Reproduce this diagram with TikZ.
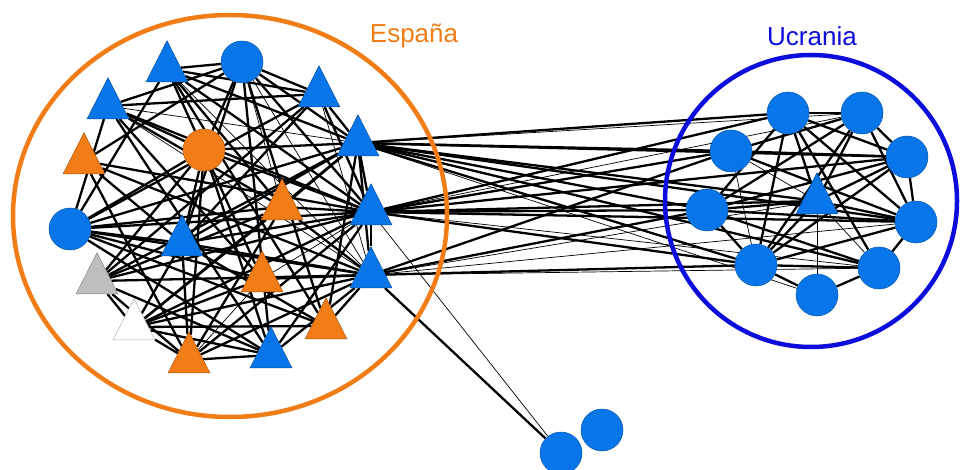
\documentclass[tikz,border=0pt]{standalone}
\usepackage{fontspec}
\setmainfont{Liberation Sans}
\usepackage{tikz}
\usetikzlibrary{shapes.geometric}
\definecolor{nblue}{RGB}{8,118,232}
\definecolor{norange}{RGB}{242,124,22}
\definecolor{ngray}{RGB}{190,190,190}
\definecolor{ublue}{RGB}{12,12,220}
\pgfdeclarelayer{bg}
\pgfsetlayers{bg,main}

\begin{document}
\begin{tikzpicture}[x = 1pt, y = -1pt,
    circ/.style = {circle, inner sep = 0pt, minimum size = 42pt, draw = #1!75!black, line width = 0.5pt, fill = #1},
    tri/.style = {isosceles triangle, isosceles triangle apex angle = 54, shape border rotate = 90,
      inner sep = 0pt, minimum width = 41pt, minimum height = 41pt, draw = #1!70!black, line width = 0.5pt, fill = #1},
    lnk/.style = {line width = 2.3pt, black},
    fine/.style = {line width = 0.7pt, black}]
      \useasboundingbox (0, 0) rectangle (960, 470);

      \draw[norange, line width = 4.5pt] (230, 216) ellipse [x radius = 217, y radius = 201];
      \draw[ublue, line width = 4.5pt] (811, 201) circle [radius = 146];
      \node[norange, font = \fontsize{26}{30}\selectfont] at (414, 36) (es) {España};
      \node[ublue, font = \fontsize{26}{30}\selectfont] at (812, 36) (ua) {Ucrania};

      \node[tri = nblue]   at (167,  69) (e1)  {};
      \node[circ = nblue]  at (242,  62) (e2)  {};
      \node[tri = nblue]   at (319,  94) (e3)  {};
      \node[tri = nblue]   at (108, 106) (e4)  {};
      \node[tri = norange] at ( 84, 161) (e5)  {};
      \node[circ = norange] at (204, 150) (e6) {};
      \node[tri = nblue]   at (358, 143) (e7)  {};
      \node[tri = norange] at (282, 207) (e8)  {};
      \node[tri = nblue]   at (371, 212) (e9)  {};
      \node[circ = nblue]  at ( 70, 229) (e10) {};
      \node[tri = nblue]   at (182, 243) (e11) {};
      \node[tri = norange] at (262, 279) (e12) {};
      \node[tri = ngray]   at ( 97, 281) (e13) {};
      \node[tri = nblue]   at (371, 275) (e14) {};
      \node[tri = white]   at (134, 327) (e15) {};
      \node[tri = norange] at (326, 326) (e16) {};
      \node[tri = norange] at (189, 360) (e17) {};
      \node[tri = nblue]   at (271, 355) (e18) {};

      \node[circ = nblue]  at (788, 113) (u1)  {};
      \node[circ = nblue]  at (862, 113) (u2)  {};
      \node[circ = nblue]  at (731, 151) (u3)  {};
      \node[circ = nblue]  at (907, 157) (u4)  {};
      \node[circ = nblue]  at (707, 210) (u5)  {};
      \node[tri = nblue]   at (817, 201) (u6)  {};
      \node[circ = nblue]  at (916, 222) (u7)  {};
      \node[circ = nblue]  at (756, 265) (u8)  {};
      \node[circ = nblue]  at (879, 268) (u9)  {};
      \node[circ = nblue]  at (817, 295) (u10) {};

      \node[circ = nblue]  at (561, 453) (x1)  {};
      \node[circ = nblue]  at (602, 430) (x2)  {};

      \begin{pgfonlayer}{bg}
      \draw[lnk] (e1) edge (e2) edge (e3) edge (e7) edge (e9) edge (e10) edge (e12) edge (e16) edge (e8);
      \draw[fine] (e1) edge (e14);
      \draw[lnk] (e2) edge (e3) edge (e4) edge (e7) edge (e9) edge (e11) edge (e6) edge (e16) edge (e18);
      \draw[fine] (e2) edge (e14) edge (e8);
      \draw[lnk] (e3) edge (e4) edge (e7) edge (e10) edge (e11) edge (e13) edge (e9);
      \draw[fine] (e3) edge (e14);
      \draw[lnk] (e4) edge (e9) edge (e6) edge (e10) edge (e12) edge (e18) edge (e8);
      \draw[fine] (e4) edge (e7) edge (e14);
      \draw[lnk] (e5) edge (e9) edge (e14) edge (e17) edge (e11) edge (e2);
      \draw[lnk] (e6) edge (e7) edge (e9) edge (e10) edge (e13) edge (e11) edge (e18) edge (e17);
      \draw[lnk] (e7) edge (e9) edge (e14) edge (e10) edge (e11) edge (e13) edge (e8) edge (e16) edge (e15);
      \draw[lnk] (e8) edge (e10) edge (e13) edge (e15) edge (e9) edge (e14) edge (e17);
      \draw[lnk] (e9) edge (e14) edge (e10) edge (e11) edge (e13) edge (e15) edge (e17) edge (e18);
      \draw[fine] (e9) edge (e12);
      \draw[lnk] (e10) edge (e14) edge (e11) edge (e12) edge (e18) edge (e16);
      \draw[lnk] (e11) edge (e14) edge (e16) edge (e17) edge (e15);
      \draw[lnk] (e12) edge (e14) edge (e15);
      \draw[fine] (e12) edge (e17);
      \draw[lnk] (e13) edge (e14) edge (e15) edge (e18) edge (e17);
      \draw[lnk] (e14) edge (e15) edge (e16) edge (e17) edge (e18);
      \draw[lnk] (e15) edge (e18) edge (e17) edge (e16);
      \draw[lnk] (e17) edge (e18);

      \draw[lnk] (e7) edge (u1) edge (u3) edge (u5) edge (u6) edge (u7) edge (u8) edge (u9) edge (u4);
      \draw[fine] (e7) edge (u2) edge (u10);
      \draw[lnk] (e9) edge (u1) edge (u3) edge (u5) edge (u6) edge (u7) edge (u8) edge (u4);
      \draw[fine] (e9) edge (u9) edge (u2);
      \draw[lnk] (e14) edge (u5) edge (u8) edge (u3);
      \draw[fine] (e14) edge (u9) edge (u7) edge (u6);

      \draw[lnk] (u1) edge (u2) edge (u8) edge (u6) edge (u7) edge (u4) edge (u5) edge (u9);
      \draw[lnk] (u2) edge (u4) edge (u5) edge (u8) edge (u6) edge (u7) edge (u3);
      \draw[lnk] (u3) edge (u4) edge (u7);
      \draw[fine] (u3) edge (u8) edge (u6);
      \draw[lnk] (u4) edge (u5) edge (u8) edge (u7) edge (u6);
      \draw[lnk] (u5) edge (u7) edge (u6) edge (u8) edge (u9);
      \draw[fine] (u6) edge (u10) edge (u9);
      \draw[lnk] (u6) edge (u8) edge (u7);
      \draw[lnk] (u7) edge (u8) edge (u9);
      \draw[lnk] (u8) edge (u10) edge (u9);
      \draw[lnk] (u9) edge (u10);

      \draw[lnk] (e14) edge (x1);
      \draw[fine] (e9) edge (x1);
      \end{pgfonlayer}
    \end{tikzpicture}
\end{document}
